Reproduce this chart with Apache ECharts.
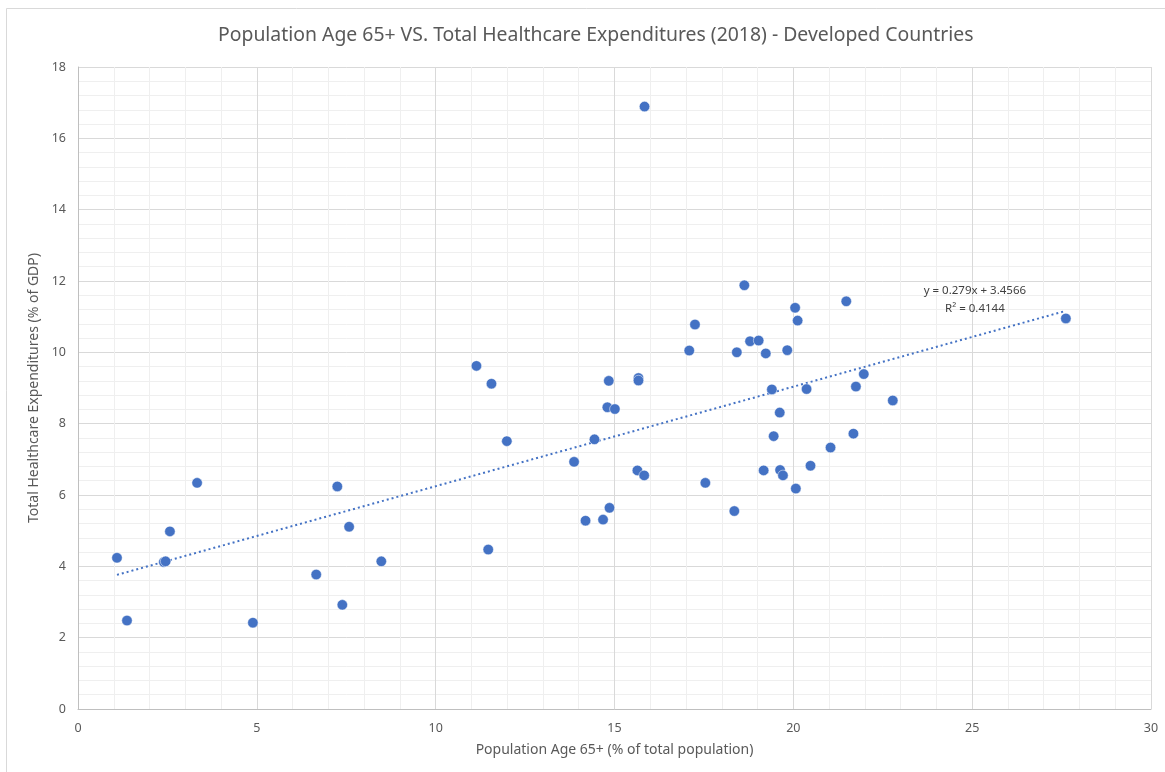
<!DOCTYPE html>
<html>
<head>
<meta charset="utf-8">
<script src="https://cdn.jsdelivr.net/npm/echarts@6/dist/echarts.min.js"></script>
<style>
html,body{margin:0;padding:0;background:#fff;}
#chart{width:1165px;height:772px;}
</style>
</head>
<body>
<div id="chart"></div>
<script>
// Population age 65+ (% of total population)
const popAge65 = [
  1.09, 1.37, 2.40, 2.45, 2.57, 3.33, 4.89, 6.66, 7.25, 7.39, 7.58, 8.48,
  11.14, 11.56, 11.47, 11.99, 13.87, 14.44, 14.19, 14.68, 14.86, 14.84, 14.80, 15.01,
  15.67, 15.67, 15.64, 15.83, 15.84, 17.09, 17.25, 17.54, 18.35, 18.42,
  18.63, 18.79, 19.03, 19.23, 19.83, 20.05, 20.12, 21.48, 19.40, 20.37,
  21.97, 21.75, 22.78, 19.62, 19.45, 21.68, 21.04, 20.48, 19.17, 19.63,
  19.71, 20.07, 27.62
];
// Total healthcare expenditures (% of GDP)
const healthExp = [
  4.24, 2.48, 4.12, 4.14, 4.98, 6.34, 2.42, 3.77, 6.24, 2.92, 5.11, 4.14,
  9.62, 9.12, 4.47, 7.51, 6.93, 7.56, 5.28, 5.31, 5.64, 9.20, 8.46, 8.41,
  9.28, 9.21, 6.69, 6.55, 16.89, 10.05, 10.78, 6.34, 5.55, 10.00,
  11.88, 10.31, 10.33, 9.97, 10.06, 11.25, 10.89, 11.43, 8.96, 8.97,
  9.39, 9.04, 8.65, 8.31, 7.65, 7.72, 7.33, 6.82, 6.69, 6.70,
  6.55, 6.18, 10.95
];
// Linear trendline as reported in the chart
const trendSlope = 0.279;
const trendIntercept = 3.4566;
const trendLabel = ['y = 0.279x + 3.4566', 'R² = 0.4144'];

const titleText = 'Population Age 65+ VS. Total Healthcare Expenditures (2018) - Developed Countries';
const xAxisName = 'Population Age 65+ (% of total population)';
const yAxisName = 'Total Healthcare Expenditures (% of GDP)';

const points = popAge65.map((x, i) => [x, healthExp[i]]);
const xMin = Math.min(...popAge65), xMax = Math.max(...popAge65);
const trendData = [[xMin, trendSlope * xMin + trendIntercept], [xMax, trendSlope * xMax + trendIntercept]];

const FONT = 'Noto Sans';
const chart = echarts.init(document.getElementById('chart'), null, {renderer: 'canvas'});
chart.setOption({
  animation: false,
  backgroundColor: '#fff',
  title: {
    text: titleText,
    left: 213,
    top: 21,
    textStyle: {fontFamily: FONT, fontSize: 19.4, fontWeight: 'normal', color: '#595959'}
  },
  graphic: [{
    type: 'rect', shape: {x: 6.5, y: 8.5, width: 1200, height: 800},
    style: {fill: 'none', stroke: '#d9d9d9', lineWidth: 1}, silent: true, z: -1
  }],
  grid: {left: 78, right: 14, top: 67, bottom: 63, containLabel: false},
  xAxis: {
    type: 'value', min: 0, max: 30, interval: 5,
    name: xAxisName, nameLocation: 'middle', nameGap: 34,
    nameTextStyle: {fontFamily: FONT, fontSize: 14, color: '#595959'},
    axisLine: {show: true, lineStyle: {color: '#bfbfbf', width: 1}},
    axisTick: {show: false},
    axisLabel: {fontFamily: FONT, fontSize: 12.5, color: '#595959', margin: 13},
    splitLine: {show: true, lineStyle: {color: '#d9d9d9', width: 1}},
    minorTick: {show: false, splitNumber: 5},
    minorSplitLine: {show: true, lineStyle: {color: '#efefef', width: 1}}
  },
  yAxis: {
    type: 'value', min: 0, max: 18, interval: 2,
    name: yAxisName, nameLocation: 'middle', nameGap: 32, nameRotate: 90,
    nameTextStyle: {fontFamily: FONT, fontSize: 14, color: '#595959'},
    axisLine: {show: true, lineStyle: {color: '#bfbfbf', width: 1}},
    axisTick: {show: false},
    axisLabel: {fontFamily: FONT, fontSize: 12.5, color: '#595959', margin: 12},
    splitLine: {show: true, lineStyle: {color: '#d9d9d9', width: 1}},
    minorTick: {show: false, splitNumber: 5},
    minorSplitLine: {show: true, lineStyle: {color: '#efefef', width: 1}}
  },
  series: [
    {
      type: 'line',
      data: trendData,
      symbol: 'none',
      lineStyle: {color: '#4472C4', width: 2, type: [2, 3]},
      z: 2,
      silent: true,
      endLabel: {
        show: true,
        formatter: trendLabel.join('\n'),
        fontFamily: FONT, fontSize: 11.5, color: '#404040',
        lineHeight: 18, align: 'center',
        offset: [-99, -11]
      }
    },
    {
      type: 'scatter',
      data: points,
      symbol: 'circle',
      symbolSize: 10.5,
      itemStyle: {color: '#4472C4', opacity: 1, borderColor: '#ffffff', borderWidth: 0.5},
      z: 3
    }
  ]
});
</script>
</body>
</html>
